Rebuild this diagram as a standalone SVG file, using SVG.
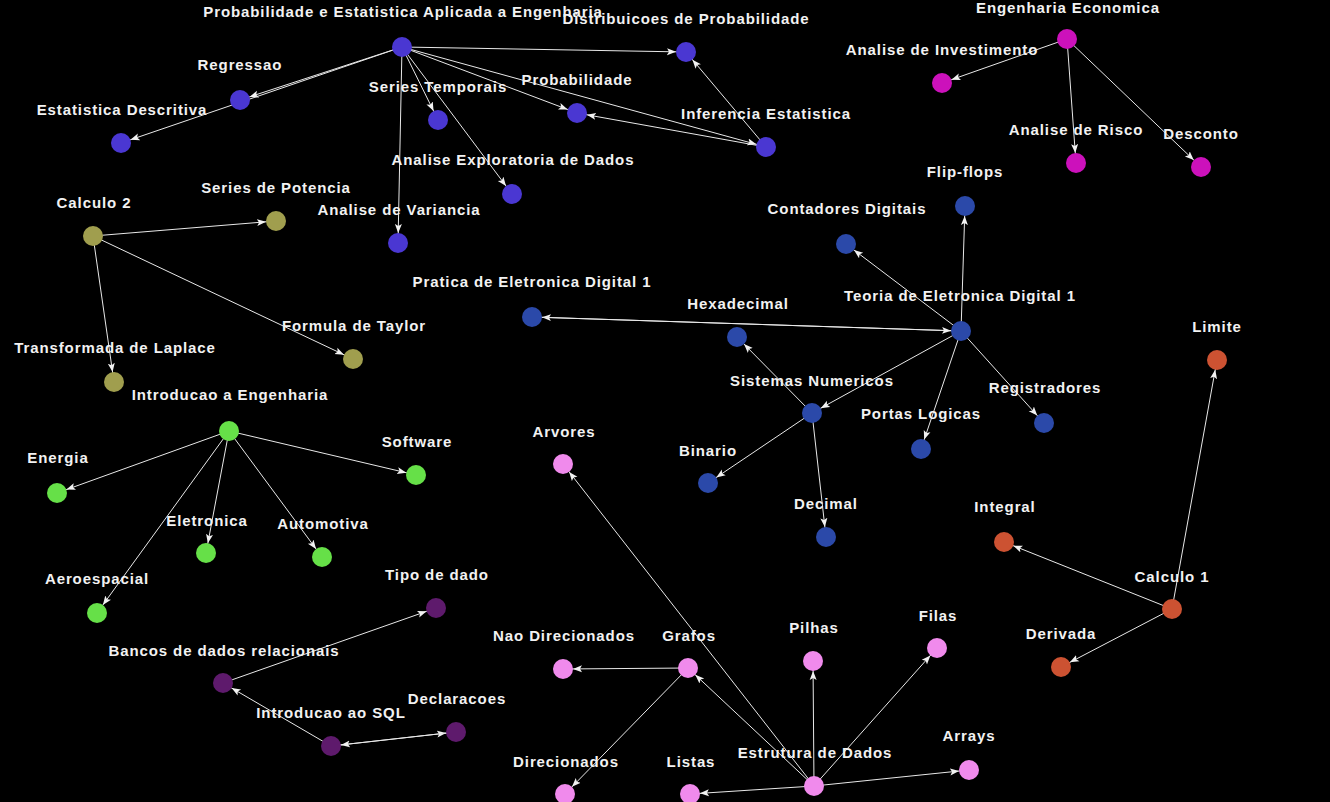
<svg xmlns="http://www.w3.org/2000/svg" width="1330" height="802" viewBox="0 0 1330 802">
<style>
.bg{fill:#000}
.e{stroke:#e8e8e8;stroke-width:1;fill:none;marker-end:url(#arr)}
text{font-family:"Liberation Sans",Arial,Helvetica,sans-serif;font-weight:bold;font-size:15px;letter-spacing:0.9px;fill:#f2f2f2;text-anchor:middle}
.c1{fill:#4a37d2}.c2{fill:#2b49a9}.c3{fill:#cc11bb}.c4{fill:#a09e4e}.c5{fill:#66e048}.c6{fill:#5e1a6c}.c7{fill:#f08aec}.c8{fill:#cc5232}
</style>
<defs>
<marker id="arr" markerUnits="userSpaceOnUse" markerWidth="24" markerHeight="10" refX="19" refY="4" orient="auto" viewBox="0 0 24 10">
<path d="M0,0.5 L9,4 L0,7.5 L2,4 z" fill="#f2f2f2"/>
</marker>
</defs>
<rect class="bg" x="0" y="0" width="1330" height="802"/>
<g id="connectors">
<line class="e" x1="402" y1="47" x2="686" y2="52"/>
<line class="e" x1="402" y1="47" x2="240" y2="100"/>
<line class="e" x1="402" y1="47" x2="121" y2="143"/>
<line class="e" x1="402" y1="47" x2="438" y2="120"/>
<line class="e" x1="402" y1="47" x2="577" y2="113"/>
<line class="e" x1="402" y1="47" x2="766" y2="147"/>
<line class="e" x1="402" y1="47" x2="512" y2="194"/>
<line class="e" x1="402" y1="47" x2="398" y2="243"/>
<line class="e" x1="766" y1="147" x2="577" y2="113"/>
<line class="e" x1="766" y1="147" x2="686" y2="52"/>
<line class="e" x1="1067" y1="39" x2="942" y2="83"/>
<line class="e" x1="1067" y1="39" x2="1076" y2="163"/>
<line class="e" x1="1067" y1="39" x2="1201" y2="167"/>
<line class="e" x1="93" y1="236" x2="276" y2="221"/>
<line class="e" x1="93" y1="236" x2="114" y2="382"/>
<line class="e" x1="93" y1="236" x2="353" y2="359"/>
<line class="e" x1="961" y1="331" x2="965" y2="206"/>
<line class="e" x1="961" y1="331" x2="846" y2="244"/>
<line class="e" x1="961" y1="331" x2="532" y2="317"/>
<line class="e" x1="532" y1="317" x2="961" y2="331"/>
<line class="e" x1="961" y1="331" x2="812" y2="413"/>
<line class="e" x1="961" y1="331" x2="921" y2="449"/>
<line class="e" x1="961" y1="331" x2="1044" y2="423"/>
<line class="e" x1="812" y1="413" x2="737" y2="337"/>
<line class="e" x1="812" y1="413" x2="708" y2="483"/>
<line class="e" x1="812" y1="413" x2="826" y2="537"/>
<line class="e" x1="229" y1="431" x2="57" y2="493"/>
<line class="e" x1="229" y1="431" x2="416" y2="475"/>
<line class="e" x1="229" y1="431" x2="206" y2="553"/>
<line class="e" x1="229" y1="431" x2="322" y2="557"/>
<line class="e" x1="229" y1="431" x2="97" y2="613"/>
<line class="e" x1="223" y1="683" x2="436" y2="608"/>
<line class="e" x1="331" y1="746" x2="223" y2="683"/>
<line class="e" x1="331" y1="746" x2="456" y2="732"/>
<line class="e" x1="456" y1="732" x2="331" y2="746"/>
<line class="e" x1="814" y1="786" x2="563" y2="464"/>
<line class="e" x1="814" y1="786" x2="688" y2="668"/>
<line class="e" x1="814" y1="786" x2="813" y2="661"/>
<line class="e" x1="814" y1="786" x2="937" y2="648"/>
<line class="e" x1="814" y1="786" x2="969" y2="770"/>
<line class="e" x1="814" y1="786" x2="690" y2="794"/>
<line class="e" x1="688" y1="668" x2="563" y2="669"/>
<line class="e" x1="688" y1="668" x2="565" y2="794"/>
<line class="e" x1="1172" y1="609" x2="1217" y2="360"/>
<line class="e" x1="1172" y1="609" x2="1004" y2="542"/>
<line class="e" x1="1172" y1="609" x2="1061" y2="667"/>
</g>
<g id="n-pe"><circle class="c1" cx="402" cy="47" r="10"/><text x="403" y="17">Probabilidade e Estatistica Aplicada a Engenharia</text></g>
<g id="n-dist"><circle class="c1" cx="686" cy="52" r="10"/><text x="686" y="24">Distribuicoes de Probabilidade</text></g>
<g id="n-regr"><circle class="c1" cx="240" cy="100" r="10"/><text x="240" y="70">Regressao</text></g>
<g id="n-estdesc"><circle class="c1" cx="121" cy="143" r="10"/><text x="122" y="115">Estatistica Descritiva</text></g>
<g id="n-sertemp"><circle class="c1" cx="438" cy="120" r="10"/><text x="438" y="92">Series Temporais</text></g>
<g id="n-prob"><circle class="c1" cx="577" cy="113" r="10"/><text x="577" y="85">Probabilidade</text></g>
<g id="n-inf"><circle class="c1" cx="766" cy="147" r="10"/><text x="766" y="119">Inferencia Estatistica</text></g>
<g id="n-aed"><circle class="c1" cx="512" cy="194" r="10"/><text x="513" y="165">Analise Exploratoria de Dados</text></g>
<g id="n-anvar"><circle class="c1" cx="398" cy="243" r="10"/><text x="399" y="215">Analise de Variancia</text></g>
<g id="n-ee"><circle class="c3" cx="1067" cy="39" r="10"/><text x="1068" y="13">Engenharia Economica</text></g>
<g id="n-ainv"><circle class="c3" cx="942" cy="83" r="10"/><text x="942" y="55">Analise de Investimento</text></g>
<g id="n-arisco"><circle class="c3" cx="1076" cy="163" r="10"/><text x="1076" y="135">Analise de Risco</text></g>
<g id="n-desc"><circle class="c3" cx="1201" cy="167" r="10"/><text x="1201" y="139">Desconto</text></g>
<g id="n-calc2"><circle class="c4" cx="93" cy="236" r="10"/><text x="94" y="208">Calculo 2</text></g>
<g id="n-serpot"><circle class="c4" cx="276" cy="221" r="10"/><text x="276" y="193">Series de Potencia</text></g>
<g id="n-laplace"><circle class="c4" cx="114" cy="382" r="10"/><text x="115" y="353">Transformada de Laplace</text></g>
<g id="n-taylor"><circle class="c4" cx="353" cy="359" r="10"/><text x="354" y="331">Formula de Taylor</text></g>
<g id="n-ted"><circle class="c2" cx="961" cy="331" r="10"/><text x="960" y="301">Teoria de Eletronica Digital 1</text></g>
<g id="n-flip"><circle class="c2" cx="965" cy="206" r="10"/><text x="965" y="177">Flip-flops</text></g>
<g id="n-cont"><circle class="c2" cx="846" cy="244" r="10"/><text x="847" y="214">Contadores Digitais</text></g>
<g id="n-pratica"><circle class="c2" cx="532" cy="317" r="10"/><text x="532" y="287">Pratica de Eletronica Digital 1</text></g>
<g id="n-hexa"><circle class="c2" cx="737" cy="337" r="10"/><text x="738" y="309">Hexadecimal</text></g>
<g id="n-sistnum"><circle class="c2" cx="812" cy="413" r="10"/><text x="812" y="386">Sistemas Numericos</text></g>
<g id="n-portas"><circle class="c2" cx="921" cy="449" r="10"/><text x="921" y="419">Portas Logicas</text></g>
<g id="n-regis"><circle class="c2" cx="1044" cy="423" r="10"/><text x="1045" y="393">Registradores</text></g>
<g id="n-bin"><circle class="c2" cx="708" cy="483" r="10"/><text x="708" y="456">Binario</text></g>
<g id="n-dec"><circle class="c2" cx="826" cy="537" r="10"/><text x="826" y="509">Decimal</text></g>
<g id="n-ie"><circle class="c5" cx="229" cy="431" r="10"/><text x="230" y="400">Introducao a Engenharia</text></g>
<g id="n-energia"><circle class="c5" cx="57" cy="493" r="10"/><text x="58" y="463">Energia</text></g>
<g id="n-soft"><circle class="c5" cx="416" cy="475" r="10"/><text x="417" y="447">Software</text></g>
<g id="n-eletr"><circle class="c5" cx="206" cy="553" r="10"/><text x="207" y="526">Eletronica</text></g>
<g id="n-auto"><circle class="c5" cx="322" cy="557" r="10"/><text x="323" y="529">Automotiva</text></g>
<g id="n-aero"><circle class="c5" cx="97" cy="613" r="10"/><text x="97" y="584">Aeroespacial</text></g>
<g id="n-tipo"><circle class="c6" cx="436" cy="608" r="10"/><text x="437" y="580">Tipo de dado</text></g>
<g id="n-bancos"><circle class="c6" cx="223" cy="683" r="10"/><text x="224" y="656">Bancos de dados relacionais</text></g>
<g id="n-sql"><circle class="c6" cx="331" cy="746" r="10"/><text x="331" y="718">Introducao ao SQL</text></g>
<g id="n-decl"><circle class="c6" cx="456" cy="732" r="10"/><text x="457" y="704">Declaracoes</text></g>
<g id="n-ed"><circle class="c7" cx="814" cy="786" r="10"/><text x="815" y="758">Estrutura de Dados</text></g>
<g id="n-arv"><circle class="c7" cx="563" cy="464" r="10"/><text x="564" y="437">Arvores</text></g>
<g id="n-naodir"><circle class="c7" cx="563" cy="669" r="10"/><text x="564" y="641">Nao Direcionados</text></g>
<g id="n-grafos"><circle class="c7" cx="688" cy="668" r="10"/><text x="689" y="641">Grafos</text></g>
<g id="n-pilhas"><circle class="c7" cx="813" cy="661" r="10"/><text x="814" y="633">Pilhas</text></g>
<g id="n-filas"><circle class="c7" cx="937" cy="648" r="10"/><text x="938" y="621">Filas</text></g>
<g id="n-arrays"><circle class="c7" cx="969" cy="770" r="10"/><text x="969" y="741">Arrays</text></g>
<g id="n-listas"><circle class="c7" cx="690" cy="794" r="10"/><text x="691" y="767">Listas</text></g>
<g id="n-dir"><circle class="c7" cx="565" cy="794" r="10"/><text x="566" y="767">Direcionados</text></g>
<g id="n-calc1"><circle class="c8" cx="1172" cy="609" r="10"/><text x="1172" y="582">Calculo 1</text></g>
<g id="n-lim"><circle class="c8" cx="1217" cy="360" r="10"/><text x="1217" y="332">Limite</text></g>
<g id="n-int"><circle class="c8" cx="1004" cy="542" r="10"/><text x="1005" y="512">Integral</text></g>
<g id="n-deriv"><circle class="c8" cx="1061" cy="667" r="10"/><text x="1061" y="639">Derivada</text></g>
</svg>
